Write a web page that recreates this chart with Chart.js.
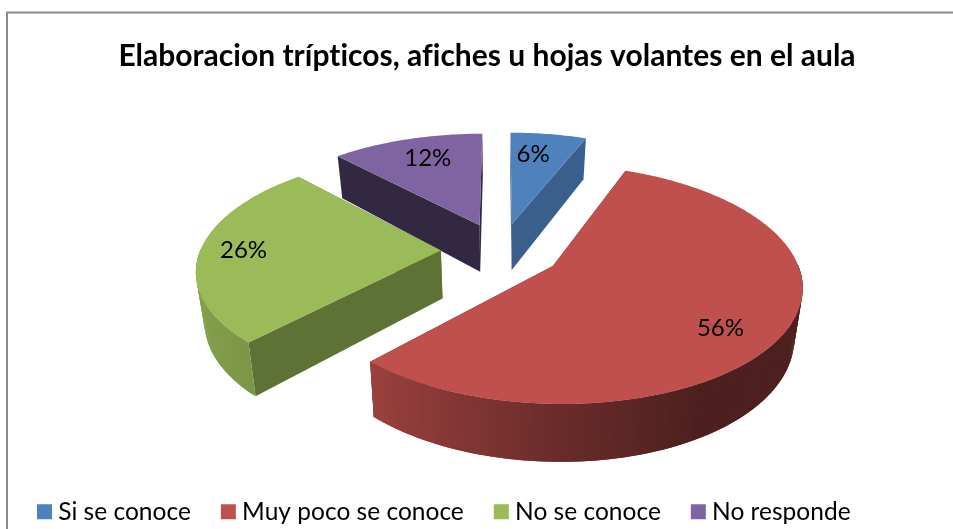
<!DOCTYPE html>
<html><head><meta charset="utf-8">
<style>html,body{margin:0;padding:0;background:#fff;overflow:hidden}canvas{display:block}</style>
<script src="https://cdn.jsdelivr.net/npm/chart.js@4"></script>
</head><body><canvas id="c" width="953" height="529"></canvas>
<script>
const titleText = 'Elaboracion trípticos, afiches u hojas volantes en el aula';
const categories = ['Si se conoce', 'Muy poco se conoce', 'No se conoce', 'No responde'];
const shares = [6, 56, 26, 12];
const sliceColors = ['#4F81BD', '#C0504D', '#9BBB59', '#8064A2'];
const wallShades = [0.74, 0.5, 0.61, 0.4];
const labelAngleShift = [-2.6, 6.5, 0, 1.7];
const labelRadius = [0.746, 0.79, 0.82, 0.749];
const FONT = 'Lato, Carlito, Calibri, sans-serif';

const view = { shiftX: 21, shiftY: -21.2, scale: 1.255, flat: 0.4667, persp: 0.15, explode: 0.25, depth: 48, taper: 0.028 };

function shade(hex, f) {
  const n = parseInt(hex.slice(1), 16);
  return 'rgb(' + [(n >> 16) & 255, (n >> 8) & 255, n & 255].map(c => Math.round(c * f)).join(',') + ')';
}
function rimShade(u) {
  const stops = [[-1, .86], [-.67, .8], [0, .55], [.5, .4], [1, .4]];
  for (let i = 1; i < stops.length; i++) {
    if (u <= stops[i][0]) {
      const t = (u - stops[i - 1][0]) / (stops[i][0] - stops[i - 1][0]);
      return stops[i - 1][1] + t * (stops[i][1] - stops[i - 1][1]);
    }
  }
  return .4;
}
function projector(arc) {
  const cx = arc.x + view.shiftX, cy = arc.y + view.shiftY, S = arc.outerRadius * view.scale;
  return (u, v, z) => {
    const w = 1 - view.persp * v;
    return [cx + S * u / w * (1 - view.taper * z), cy + S * view.flat * v / w + view.depth * z / w];
  };
}
function poly(ctx, pts, fill) {
  ctx.beginPath();
  pts.forEach((p, i) => i ? ctx.lineTo(p[0], p[1]) : ctx.moveTo(p[0], p[1]));
  ctx.closePath();
  ctx.fillStyle = fill;
  ctx.fill();
}
function drawSlice(ctx, arc, i) {
  const P = projector(arc), mid = (arc.startAngle + arc.endAngle) / 2;
  const ou = Math.cos(mid) * view.explode, ov = Math.sin(mid) * view.explode;
  const n = Math.ceil((arc.endAngle - arc.startAngle) / 0.015);
  const rim = [];
  for (let k = 0; k <= n; k++) {
    const a = arc.startAngle + (arc.endAngle - arc.startAngle) * k / n;
    rim.push([ou + Math.cos(a), ov + Math.sin(a), Math.cos(a), Math.sin(a)]);
  }
  const col = sliceColors[i];
  const wall = shade(col, wallShades[i]);
  const first = rim[0], last = rim[n];
  [first, last].forEach(e => poly(ctx, [P(ou, ov, 0), P(e[0], e[1], 0), P(e[0], e[1], 1), P(ou, ov, 1)], wall));
  for (let k = 0; k < n; k++) {
    const a = rim[k], b = rim[Math.min(k + 2, n)];
    if (a[3] < 0 && rim[k + 1][3] < 0) continue;
    poly(ctx, [P(a[0], a[1], 0), P(b[0], b[1], 0), P(b[0], b[1], 1), P(a[0], a[1], 1)], shade(col, rimShade(a[2])));
  }
  poly(ctx, [P(ou, ov, 0)].concat(rim.map(r => P(r[0], r[1], 0))), col);
}
const tiltedPie = {
  id: 'tiltedPie',
  beforeUpdate(chart) { chart.ctx.letterSpacing = '0.01px'; },
  beforeDraw(chart) {
    const ctx = chart.ctx;
    ctx.letterSpacing = '0.01px';
    ctx.save();
    ctx.strokeStyle = '#8c8c8c'; ctx.lineWidth = 2;
    ctx.strokeRect(7, 12.5, chart.width + 20, chart.height + 20);
    ctx.restore();
  },
  beforeDatasetDraw(chart, args) {
    const ctx = chart.ctx, arcs = args.meta.data;
    const order = arcs.map((a, i) => i).sort((p, q) =>
      Math.sin((arcs[p].startAngle + arcs[p].endAngle) / 2) - Math.sin((arcs[q].startAngle + arcs[q].endAngle) / 2));
    ctx.save();
    order.forEach(i => drawSlice(ctx, arcs[i], i));
    ctx.fillStyle = '#000'; ctx.font = '24px ' + FONT;
    ctx.textAlign = 'center'; ctx.textBaseline = 'middle';
    arcs.forEach((arc, i) => {
      const P = projector(arc), mid = (arc.startAngle + arc.endAngle) / 2;
      const a = mid + labelAngleShift[i] * Math.PI / 180;
      const p = P(Math.cos(mid) * view.explode + Math.cos(a) * labelRadius[i],
                  Math.sin(mid) * view.explode + Math.sin(a) * labelRadius[i], 0);
      ctx.fillText(shares[i] + '%', p[0], p[1]);
    });
    ctx.restore();
    return false;
  }
};
new Chart(document.getElementById('c'), {
  type: 'pie',
  data: { labels: categories, datasets: [{ data: shares, backgroundColor: sliceColors, borderWidth: 0 }] },
  plugins: [tiltedPie],
  options: {
    responsive: false, animation: false,
    layout: { padding: { bottom: -5, left: 7, right: -14 } },
    plugins: {
      tooltip: { enabled: false },
      title: { display: true, text: titleText, color: '#000', padding: { top: 38, bottom: 6 },
               font: { family: FONT, size: 30, weight: 'bold' } },
      legend: {
        position: 'bottom', align: 'start',
        labels: {
          color: '#000', padding: 36, boxWidth: 3, boxHeight: 3,
          font: { family: FONT, size: 24.5 },
          generateLabels(chart) {
            return Chart.overrides.pie.plugins.legend.labels.generateLabels(chart).map(l =>
              Object.assign(l, { lineWidth: 12, strokeStyle: l.fillStyle, hidden: false }));
          }
        }
      }
    }
  }
});
</script></body></html>
